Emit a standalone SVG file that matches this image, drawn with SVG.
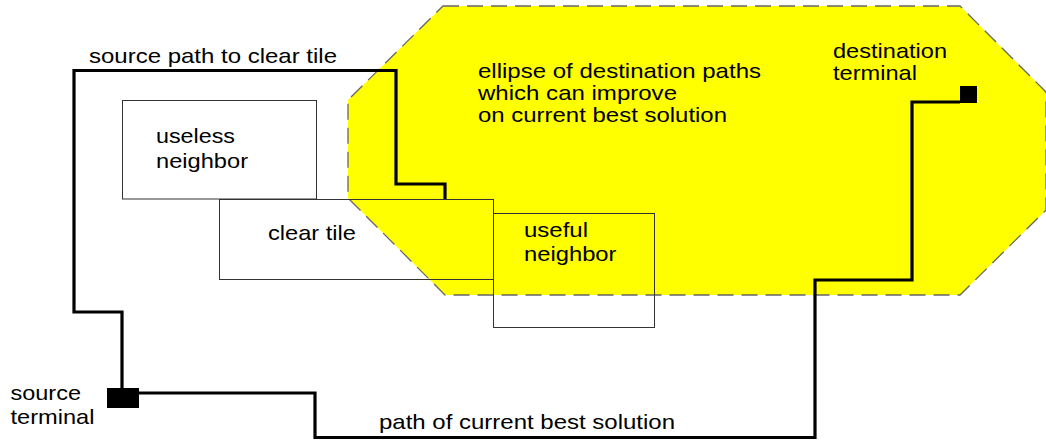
<svg xmlns="http://www.w3.org/2000/svg" width="1046" height="441" viewBox="0 0 1046 441">
<style>
.region{fill:#ffff00;stroke:#666666;stroke-width:1.3;stroke-dasharray:16 8}
.tile{fill:none;stroke:#333333;stroke-width:1}
.wire{fill:none;stroke:#000000;stroke-width:3.2;stroke-linejoin:miter}
.term{fill:#000000}
text{font-family:"Liberation Sans",Arial,Helvetica,sans-serif;font-size:21px;fill:#000000}
</style>
<rect width="1046" height="441" fill="#ffffff"/>
<g id="ellipse-region">
<polygon class="region" points="443,6 960,6 1046,92 1046,210 960,295 445,295 348,198 348,100"/>
<text x="478" y="77.5" textLength="283" lengthAdjust="spacingAndGlyphs">ellipse of destination paths</text>
<text x="478" y="100" textLength="199" lengthAdjust="spacingAndGlyphs">which can improve</text>
<text x="478" y="122" textLength="249" lengthAdjust="spacingAndGlyphs">on current best solution</text>
</g>
<g id="useless-neighbor">
<rect class="tile" x="122.5" y="100.5" width="194" height="98.5"/>
<text x="156" y="142.5" textLength="79" lengthAdjust="spacingAndGlyphs">useless</text>
<text x="156" y="167.5" textLength="92" lengthAdjust="spacingAndGlyphs">neighbor</text>
</g>
<g id="clear-tile">
<rect class="tile" x="219.5" y="199.5" width="274" height="80"/>
<text x="268" y="239.5" textLength="88" lengthAdjust="spacingAndGlyphs">clear tile</text>
</g>
<g id="useful-neighbor">
<rect class="tile" x="493.5" y="213.5" width="161" height="114"/>
<text x="524" y="236.5" textLength="64" lengthAdjust="spacingAndGlyphs">useful</text>
<text x="524" y="260.5" textLength="92.5" lengthAdjust="spacingAndGlyphs">neighbor</text>
</g>
<g id="connectors">
<path class="wire" d="M122,388 V312 H74 V70.5 H396 V184 H445 V199"/>
<path class="wire" d="M139,393 H315 V437.5 H815 V280 H912 V102 H960"/>
</g>
<g id="source-terminal">
<rect class="term" x="107" y="388" width="32" height="20"/>
<text x="10.5" y="400" textLength="70.5" lengthAdjust="spacingAndGlyphs">source</text>
<text x="10.5" y="423.5" textLength="84" lengthAdjust="spacingAndGlyphs">terminal</text>
</g>
<g id="destination-terminal">
<rect class="term" x="960" y="86" width="17" height="17"/>
<text x="833" y="57.5" textLength="114" lengthAdjust="spacingAndGlyphs">destination</text>
<text x="833" y="80" textLength="84" lengthAdjust="spacingAndGlyphs">terminal</text>
</g>
<g id="labels">
<text x="89" y="63" textLength="248" lengthAdjust="spacingAndGlyphs">source path to clear tile</text>
<text x="379" y="428.5" textLength="296" lengthAdjust="spacingAndGlyphs">path of current best solution</text>
</g>
</svg>
